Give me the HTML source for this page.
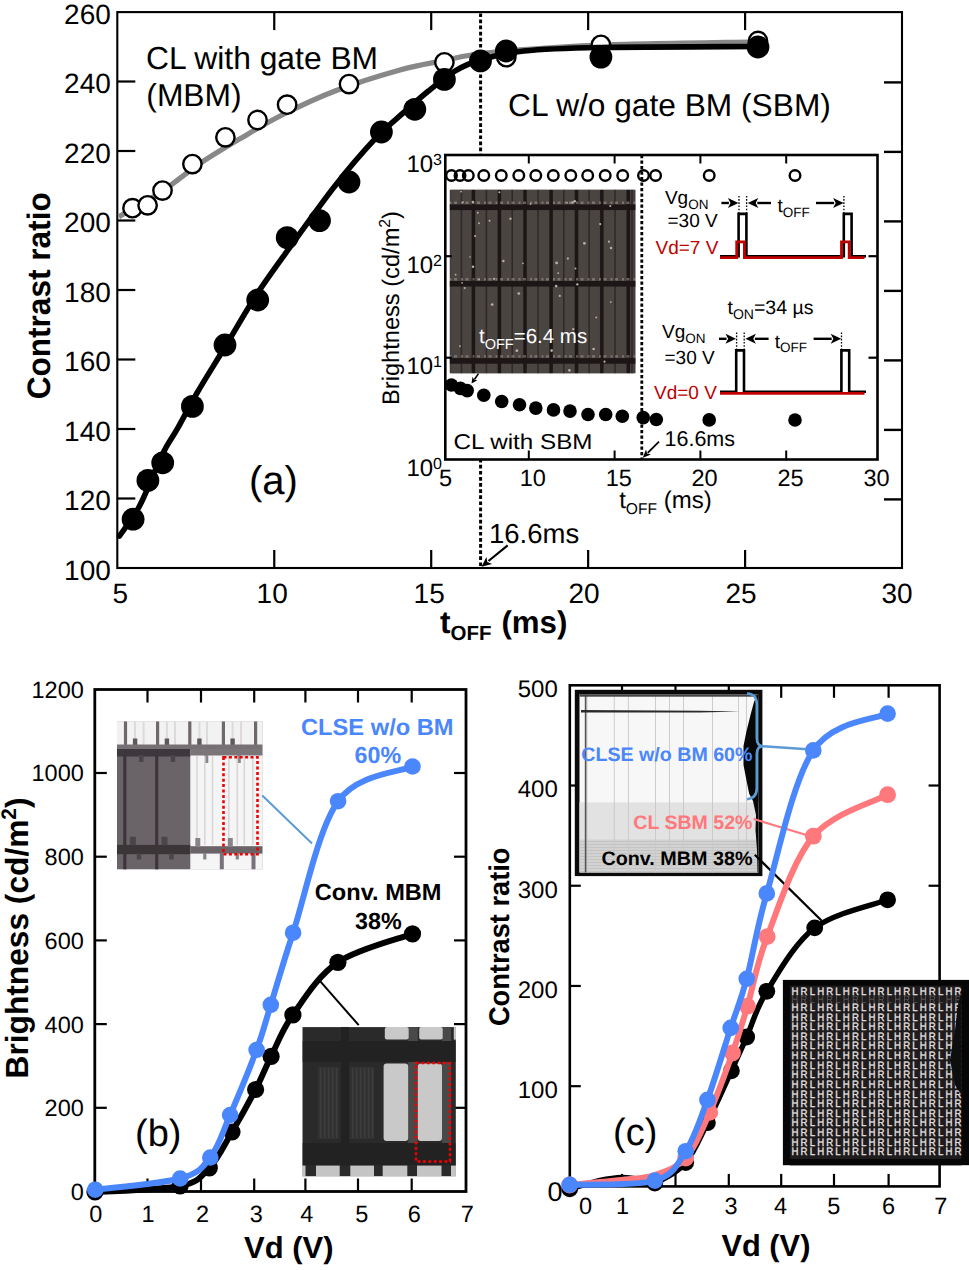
<!DOCTYPE html>
<html><head><meta charset="utf-8"><title>Figure</title><style>
html,body{margin:0;padding:0;background:#fff;width:969px;height:1270px;overflow:hidden;}
svg{display:block;}
text{font-family:"Liberation Sans",sans-serif;text-rendering:geometricPrecision;}
</style></head><body>
<svg width="969" height="1270" viewBox="0 0 969 1270">
<defs><filter id="soft" x="-2%" y="-2%" width="104%" height="104%"><feGaussianBlur stdDeviation="0.7"/></filter><filter id="soft2" x="-2%" y="-2%" width="104%" height="104%"><feGaussianBlur stdDeviation="0.45"/></filter></defs>
<rect x="0" y="0" width="969" height="1270" fill="#fff"/>
<line x1="480.6" y1="12.1" x2="480.6" y2="568" stroke="#000" stroke-width="3" stroke-dasharray="3.7 2.4" stroke-dashoffset="4.8"/>
<line x1="117.3" y1="498.5" x2="135.3" y2="498.5" stroke="#000" stroke-width="2.2"/>
<line x1="884" y1="499.4" x2="902" y2="499.4" stroke="#000" stroke-width="2.4"/>
<line x1="117.3" y1="429" x2="135.3" y2="429" stroke="#000" stroke-width="2.2"/>
<line x1="884" y1="429.9" x2="902" y2="429.9" stroke="#000" stroke-width="2.4"/>
<line x1="117.3" y1="359.5" x2="135.3" y2="359.5" stroke="#000" stroke-width="2.2"/>
<line x1="884" y1="360.4" x2="902" y2="360.4" stroke="#000" stroke-width="2.4"/>
<line x1="117.3" y1="290" x2="135.3" y2="290" stroke="#000" stroke-width="2.2"/>
<line x1="884" y1="290.9" x2="902" y2="290.9" stroke="#000" stroke-width="2.4"/>
<line x1="117.3" y1="220.5" x2="135.3" y2="220.5" stroke="#000" stroke-width="2.2"/>
<line x1="884" y1="221.4" x2="902" y2="221.4" stroke="#000" stroke-width="2.4"/>
<line x1="117.3" y1="151" x2="135.3" y2="151" stroke="#000" stroke-width="2.2"/>
<line x1="884" y1="151.9" x2="902" y2="151.9" stroke="#000" stroke-width="2.4"/>
<line x1="117.3" y1="81.5" x2="135.3" y2="81.5" stroke="#000" stroke-width="2.2"/>
<line x1="884" y1="82.4" x2="902" y2="82.4" stroke="#000" stroke-width="2.4"/>
<line x1="274.25" y1="568" x2="274.25" y2="550" stroke="#000" stroke-width="2.2"/>
<line x1="274.25" y1="12.1" x2="274.25" y2="30.1" stroke="#000" stroke-width="2.2"/>
<line x1="431.2" y1="568" x2="431.2" y2="550" stroke="#000" stroke-width="2.2"/>
<line x1="431.2" y1="12.1" x2="431.2" y2="30.1" stroke="#000" stroke-width="2.2"/>
<line x1="588.15" y1="568" x2="588.15" y2="550" stroke="#000" stroke-width="2.2"/>
<line x1="588.15" y1="12.1" x2="588.15" y2="30.1" stroke="#000" stroke-width="2.2"/>
<line x1="745.1" y1="568" x2="745.1" y2="550" stroke="#000" stroke-width="2.2"/>
<line x1="745.1" y1="12.1" x2="745.1" y2="30.1" stroke="#000" stroke-width="2.2"/>
<rect x="117.3" y="12.1" width="784.7" height="555.9" fill="none" stroke="#000" stroke-width="2.1"/>
<text x="110.8" y="579.5" font-size="28" text-anchor="end">100</text>
<text x="110.8" y="510" font-size="28" text-anchor="end">120</text>
<text x="110.8" y="440.5" font-size="28" text-anchor="end">140</text>
<text x="110.8" y="371" font-size="28" text-anchor="end">160</text>
<text x="110.8" y="301.5" font-size="28" text-anchor="end">180</text>
<text x="110.8" y="232" font-size="28" text-anchor="end">200</text>
<text x="110.8" y="162.5" font-size="28" text-anchor="end">220</text>
<text x="110.8" y="93" font-size="28" text-anchor="end">240</text>
<text x="110.8" y="23.5" font-size="28" text-anchor="end">260</text>
<text x="120.2" y="603" font-size="28" text-anchor="middle">5</text>
<text x="272.2" y="603" font-size="28" text-anchor="middle">10</text>
<text x="429.2" y="603" font-size="28" text-anchor="middle">15</text>
<text x="584.1" y="603" font-size="28" text-anchor="middle">20</text>
<text x="741" y="603" font-size="28" text-anchor="middle">25</text>
<text x="897" y="603" font-size="28" text-anchor="middle">30</text>
<path d="M118.8,216.7 C121.17,215.33 125.8,212.7 133,208.5 C140.2,204.3 150.83,199 162,191.5 C173.17,184 187,172.28 200,163.5 C213,154.72 226.33,146.88 240,138.8 C253.67,130.72 266.17,122.97 282,115 C297.83,107.03 315.33,98.5 335,91 C354.67,83.5 381.83,75.08 400,70 C418.17,64.92 432.33,62.97 444,60.5 C455.67,58.03 459.67,56.78 470,55.2 C480.33,53.62 484.33,52.7 506,51 C527.67,49.3 558,46.53 600,45 C642,43.47 731.67,42.33 758,41.8" stroke="#888" stroke-width="5.2" fill="none" stroke-linecap="butt"/>
<circle cx="132.5" cy="208.2" r="9.2" fill="#fff" stroke="#000" stroke-width="2.4"/>
<circle cx="147.6" cy="205.3" r="9.2" fill="#fff" stroke="#000" stroke-width="2.4"/>
<circle cx="162.5" cy="190.6" r="9.2" fill="#fff" stroke="#000" stroke-width="2.4"/>
<circle cx="192.4" cy="164.1" r="9.2" fill="#fff" stroke="#000" stroke-width="2.4"/>
<circle cx="225.4" cy="137.3" r="9.2" fill="#fff" stroke="#000" stroke-width="2.4"/>
<circle cx="257.5" cy="120" r="9.2" fill="#fff" stroke="#000" stroke-width="2.4"/>
<circle cx="287.1" cy="104.7" r="9.2" fill="#fff" stroke="#000" stroke-width="2.4"/>
<circle cx="349" cy="84.1" r="9.2" fill="#fff" stroke="#000" stroke-width="2.4"/>
<circle cx="444.4" cy="62.3" r="9.2" fill="#fff" stroke="#000" stroke-width="2.4"/>
<circle cx="506.3" cy="57.2" r="9.2" fill="#fff" stroke="#000" stroke-width="2.4"/>
<circle cx="600.9" cy="44.8" r="9.2" fill="#fff" stroke="#000" stroke-width="2.4"/>
<circle cx="758" cy="41" r="9.2" fill="#fff" stroke="#000" stroke-width="2.4"/>
<path d="M119.5,536 C122.75,531.17 133.08,517.83 139,507 C144.92,496.17 150.67,480.6 155,471 C159.33,461.4 161.17,456.62 165,449.4 C168.83,442.18 172.67,437.1 178,427.7 C183.33,418.3 189.17,406.45 197,393 C204.83,379.55 215,363.5 225,347 C235,330.5 245.83,311.1 257,294 C268.17,276.9 278.95,262.5 292,244.4 C305.05,226.3 321.27,203.18 335.3,185.4 C349.33,167.62 364.83,149.82 376.2,137.7 C387.57,125.58 394.8,120.48 403.5,112.7 C412.2,104.92 419.7,98.02 428.4,91 C437.1,83.98 447.02,75.77 455.7,70.6 C464.38,65.43 469.15,63.27 480.5,60 C491.85,56.73 503.88,53.08 523.8,51 C543.72,48.92 560.97,48.25 600,47.5 C639.03,46.75 731.67,46.67 758,46.5" stroke="#000" stroke-width="5.6" fill="none" stroke-linecap="round"/>
<circle cx="133.1" cy="519.2" r="11.4" fill="#000"/>
<circle cx="147.9" cy="480.4" r="11.4" fill="#000"/>
<circle cx="162.7" cy="462.8" r="11.4" fill="#000"/>
<circle cx="192.4" cy="406.4" r="11.4" fill="#000"/>
<circle cx="225" cy="345" r="11.4" fill="#000"/>
<circle cx="257.7" cy="300" r="11.4" fill="#000"/>
<circle cx="287.2" cy="237.6" r="11.4" fill="#000"/>
<circle cx="319.5" cy="220.6" r="11.4" fill="#000"/>
<circle cx="349" cy="182" r="11.4" fill="#000"/>
<circle cx="381.4" cy="132" r="11.4" fill="#000"/>
<circle cx="414.8" cy="109.3" r="11.4" fill="#000"/>
<circle cx="444.4" cy="79.4" r="11.4" fill="#000"/>
<circle cx="480.5" cy="60.9" r="11.4" fill="#000"/>
<circle cx="506.3" cy="51" r="11.4" fill="#000"/>
<circle cx="600.9" cy="57.1" r="11.4" fill="#000"/>
<circle cx="758" cy="47" r="11.4" fill="#000"/>
<text x="146" y="68.7" font-size="31.8">CL with gate BM</text>
<text x="146.3" y="106.3" font-size="31.8">(MBM)</text>
<text x="508" y="115.8" font-size="31.7">CL w/o gate BM (SBM)</text>
<text x="249" y="494" font-size="40">(a)</text>
<text x="489" y="542.6" font-size="27.5">16.6ms</text>
<line x1="507.7" y1="545.4" x2="488.48" y2="561.02" stroke="#000" stroke-width="2.2"/>
<path d="M481.5,566.7 L486.42,556.9 L487.32,561.97 L492.1,563.88 Z" fill="#000"/>
<text transform="translate(49.5,295.8) rotate(-90)" font-size="32.5" font-weight="bold" text-anchor="middle" textLength="207" lengthAdjust="spacingAndGlyphs">Contrast ratio</text>
<text x="440" y="633.3" font-size="31.5" font-weight="bold">t<tspan font-size="20.5" dy="6.2">OFF</tspan></text>
<text x="501.4" y="633.3" font-size="31.5" font-weight="bold" textLength="66" lengthAdjust="spacingAndGlyphs">(ms)</text>
<rect x="445.3" y="155" width="432.2" height="304.5" fill="#fff" stroke="#000" stroke-width="2.6"/>
<clipPath id="cpa"><rect x="449.5" y="189.5" width="186.2" height="184.1"/></clipPath>
<g clip-path="url(#cpa)"><g filter="url(#soft2)">
<rect x="449.5" y="189.5" width="186.2" height="184.1" fill="#443e3c"/>
<rect x="451.5" y="189.5" width="19.9" height="184.1" fill="#4c4542"/>
<rect x="460.65" y="189.5" width="1.6" height="184.1" fill="#2e2a29"/>
<rect x="475.4" y="189.5" width="22" height="184.1" fill="#4c4542"/>
<rect x="485.6" y="189.5" width="1.6" height="184.1" fill="#2e2a29"/>
<rect x="501.4" y="189.5" width="21.6" height="184.1" fill="#4c4542"/>
<rect x="511.4" y="189.5" width="1.6" height="184.1" fill="#2e2a29"/>
<rect x="527" y="189.5" width="22.1" height="184.1" fill="#4c4542"/>
<rect x="537.25" y="189.5" width="1.6" height="184.1" fill="#2e2a29"/>
<rect x="553.1" y="189.5" width="21.4" height="184.1" fill="#4c4542"/>
<rect x="563" y="189.5" width="1.6" height="184.1" fill="#2e2a29"/>
<rect x="578.5" y="189.5" width="21.3" height="184.1" fill="#4c4542"/>
<rect x="588.35" y="189.5" width="1.6" height="184.1" fill="#2e2a29"/>
<rect x="603.8" y="189.5" width="22.5" height="184.1" fill="#4c4542"/>
<rect x="614.25" y="189.5" width="1.6" height="184.1" fill="#2e2a29"/>
<rect x="630.3" y="189.5" width="3.4" height="184.1" fill="#4c4542"/>
<rect x="631.2" y="189.5" width="1.6" height="184.1" fill="#2e2a29"/>
<rect x="471.7" y="189.5" width="3.4" height="184.1" fill="#1c1817"/>
<rect x="497.7" y="189.5" width="3.4" height="184.1" fill="#1c1817"/>
<rect x="523.3" y="189.5" width="3.4" height="184.1" fill="#1c1817"/>
<rect x="549.4" y="189.5" width="3.4" height="184.1" fill="#1c1817"/>
<rect x="574.8" y="189.5" width="3.4" height="184.1" fill="#1c1817"/>
<rect x="600.1" y="189.5" width="3.4" height="184.1" fill="#1c1817"/>
<rect x="626.6" y="189.5" width="3.4" height="184.1" fill="#1c1817"/>
<rect x="449.5" y="204.5" width="186.2" height="5.6" fill="#1c1817"/>
<line x1="449.5" y1="202.8" x2="635.7" y2="202.8" stroke="#a39a92" stroke-width="2.4" stroke-dasharray="2 2.5 3 4" opacity="0.55"/>
<rect x="449.5" y="281" width="186.2" height="5.6" fill="#1c1817"/>
<line x1="449.5" y1="279.3" x2="635.7" y2="279.3" stroke="#a39a92" stroke-width="2.4" stroke-dasharray="2 2.5 3 4" opacity="0.55"/>
<rect x="449.5" y="358.1" width="186.2" height="5.6" fill="#1c1817"/>
<line x1="449.5" y1="356.4" x2="635.7" y2="356.4" stroke="#a39a92" stroke-width="2.4" stroke-dasharray="2 2.5 3 4" opacity="0.55"/>
<circle cx="510.5" cy="218.67" r="1.19" fill="#b8b0a8"/>
<circle cx="464.7" cy="288.01" r="1.02" fill="#b8b0a8"/>
<circle cx="462.07" cy="282.89" r="0.82" fill="#b8b0a8"/>
<circle cx="530.51" cy="204.08" r="0.85" fill="#b8b0a8"/>
<circle cx="528.85" cy="340.42" r="0.87" fill="#b8b0a8"/>
<circle cx="492.17" cy="304.5" r="1.37" fill="#b8b0a8"/>
<circle cx="556.65" cy="262.94" r="1.39" fill="#b8b0a8"/>
<circle cx="459.99" cy="346.11" r="0.97" fill="#b8b0a8"/>
<circle cx="477.78" cy="212.71" r="0.99" fill="#b8b0a8"/>
<circle cx="600.2" cy="224.05" r="1.15" fill="#b8b0a8"/>
<circle cx="567.91" cy="258.57" r="1.13" fill="#b8b0a8"/>
<circle cx="462.94" cy="202.23" r="0.92" fill="#b8b0a8"/>
<circle cx="575.47" cy="268.51" r="0.99" fill="#b8b0a8"/>
<circle cx="558.19" cy="273.12" r="0.98" fill="#b8b0a8"/>
<circle cx="596.24" cy="317.39" r="0.95" fill="#b8b0a8"/>
<circle cx="556.16" cy="286.09" r="1.33" fill="#b8b0a8"/>
<circle cx="584.4" cy="243.36" r="1.39" fill="#b8b0a8"/>
<circle cx="473.01" cy="266.8" r="1.25" fill="#b8b0a8"/>
<circle cx="479.19" cy="279.56" r="0.82" fill="#b8b0a8"/>
<circle cx="573.25" cy="329.2" r="1.14" fill="#b8b0a8"/>
<circle cx="611.01" cy="248.01" r="1.22" fill="#b8b0a8"/>
<circle cx="559.79" cy="295.94" r="1.07" fill="#b8b0a8"/>
<circle cx="604.54" cy="361.64" r="1.08" fill="#b8b0a8"/>
<circle cx="572.51" cy="202.43" r="1.22" fill="#b8b0a8"/>
<circle cx="569.41" cy="370.36" r="1.29" fill="#b8b0a8"/>
<circle cx="503.35" cy="260.98" r="1.2" fill="#b8b0a8"/>
<circle cx="455.61" cy="274.65" r="0.9" fill="#b8b0a8"/>
<circle cx="472.83" cy="202.12" r="1.26" fill="#b8b0a8"/>
<circle cx="475.07" cy="236.1" r="1.03" fill="#b8b0a8"/>
<circle cx="610.27" cy="206.01" r="1.07" fill="#b8b0a8"/>
<circle cx="551.61" cy="350.6" r="1.29" fill="#b8b0a8"/>
<circle cx="608.92" cy="241.64" r="1.05" fill="#b8b0a8"/>
<circle cx="516.87" cy="350.74" r="1.37" fill="#b8b0a8"/>
<circle cx="479" cy="223.24" r="0.94" fill="#b8b0a8"/>
<circle cx="494.01" cy="278.84" r="1.15" fill="#b8b0a8"/>
<circle cx="499.37" cy="192.24" r="1.05" fill="#b8b0a8"/>
<circle cx="518.78" cy="293.5" r="1.37" fill="#b8b0a8"/>
<circle cx="577.31" cy="284.34" r="1.17" fill="#b8b0a8"/>
<circle cx="574.7" cy="201.22" r="1.34" fill="#b8b0a8"/>
<circle cx="593.61" cy="349" r="1.28" fill="#b8b0a8"/>
<circle cx="522.99" cy="263.36" r="0.86" fill="#b8b0a8"/>
<circle cx="567.07" cy="202.71" r="0.84" fill="#b8b0a8"/>
<circle cx="489.54" cy="220.73" r="1" fill="#b8b0a8"/>
<circle cx="461.08" cy="191.54" r="0.89" fill="#b8b0a8"/>
<circle cx="469.99" cy="256.99" r="0.82" fill="#b8b0a8"/>
<circle cx="610.8" cy="302.09" r="0.89" fill="#b8b0a8"/>
</g></g>
<text x="479" y="342.5" font-size="20.5" fill="#fff">t<tspan font-size="14.5" dy="6">OFF</tspan><tspan dy="-6">=6.4 ms</tspan></text>
<line x1="478.5" y1="373.6" x2="474.39" y2="379.42" stroke="#000" stroke-width="1.6"/>
<path d="M471.5,383.5 L472.51,376.87 L474.1,379.83 L477.41,380.33 Z" fill="#000"/>
<line x1="641.8" y1="155" x2="641.8" y2="459.5" stroke="#000" stroke-width="2.8" stroke-dasharray="3.3 2.2"/>
<line x1="528.8" y1="459.5" x2="528.8" y2="450.5" stroke="#000" stroke-width="2"/>
<line x1="528.8" y1="155" x2="528.8" y2="163.5" stroke="#000" stroke-width="2"/>
<line x1="614.6" y1="459.5" x2="614.6" y2="450.5" stroke="#000" stroke-width="2"/>
<line x1="614.6" y1="155" x2="614.6" y2="163.5" stroke="#000" stroke-width="2"/>
<line x1="700.4" y1="459.5" x2="700.4" y2="450.5" stroke="#000" stroke-width="2"/>
<line x1="700.4" y1="155" x2="700.4" y2="163.5" stroke="#000" stroke-width="2"/>
<line x1="786.2" y1="459.5" x2="786.2" y2="450.5" stroke="#000" stroke-width="2"/>
<line x1="786.2" y1="155" x2="786.2" y2="163.5" stroke="#000" stroke-width="2"/>
<line x1="445.3" y1="256.2" x2="451.8" y2="256.2" stroke="#000" stroke-width="2.2"/>
<line x1="868.5" y1="256.2" x2="877.5" y2="256.2" stroke="#000" stroke-width="2.2"/>
<line x1="445.3" y1="357.7" x2="451.8" y2="357.7" stroke="#000" stroke-width="2.2"/>
<line x1="868.5" y1="357.7" x2="877.5" y2="357.7" stroke="#000" stroke-width="2.2"/>
<text x="433.1" y="171.5" font-size="24" text-anchor="end">10</text>
<text x="432.9" y="164.5" font-size="16">3</text>
<text x="433.1" y="272.7" font-size="24" text-anchor="end">10</text>
<text x="432.9" y="265.7" font-size="16">2</text>
<text x="433.1" y="374.2" font-size="24" text-anchor="end">10</text>
<text x="432.9" y="367.2" font-size="16">1</text>
<text x="433.1" y="476" font-size="24" text-anchor="end">10</text>
<text x="432.9" y="469" font-size="16">0</text>
<text x="445.6" y="486" font-size="23.5" text-anchor="middle">5</text>
<text x="532.8" y="486" font-size="23.5" text-anchor="middle">10</text>
<text x="618.8" y="486" font-size="23.5" text-anchor="middle">15</text>
<text x="704.6" y="486" font-size="23.5" text-anchor="middle">20</text>
<text x="790.5" y="486" font-size="23.5" text-anchor="middle">25</text>
<text x="876.5" y="486" font-size="23.5" text-anchor="middle">30</text>
<text x="619.2" y="508.4" font-size="24">t<tspan font-size="15.6" dy="5.6">OFF</tspan><tspan dy="-5.6"> (ms)</tspan></text>
<text transform="translate(399.2,308) rotate(-90)" font-size="24" text-anchor="middle" textLength="194" lengthAdjust="spacingAndGlyphs">Brightness (cd/m<tspan font-size="16" dy="-9">2</tspan><tspan dy="9">)</tspan></text>
<circle cx="451.5" cy="175.5" r="5.3" fill="none" stroke="#000" stroke-width="2.4"/>
<circle cx="460" cy="175.5" r="5.3" fill="none" stroke="#000" stroke-width="2.4"/>
<circle cx="468.3" cy="175.5" r="5.3" fill="none" stroke="#000" stroke-width="2.4"/>
<circle cx="483.8" cy="175.5" r="5.3" fill="none" stroke="#000" stroke-width="2.4"/>
<circle cx="501.3" cy="175.5" r="5.3" fill="none" stroke="#000" stroke-width="2.4"/>
<circle cx="518.8" cy="175.5" r="5.3" fill="none" stroke="#000" stroke-width="2.4"/>
<circle cx="535.8" cy="175.5" r="5.3" fill="none" stroke="#000" stroke-width="2.4"/>
<circle cx="553.3" cy="175.5" r="5.3" fill="none" stroke="#000" stroke-width="2.4"/>
<circle cx="570.8" cy="175.5" r="5.3" fill="none" stroke="#000" stroke-width="2.4"/>
<circle cx="587.7" cy="175.5" r="5.3" fill="none" stroke="#000" stroke-width="2.4"/>
<circle cx="605.2" cy="175.5" r="5.3" fill="none" stroke="#000" stroke-width="2.4"/>
<circle cx="622.7" cy="175.5" r="5.3" fill="none" stroke="#000" stroke-width="2.4"/>
<circle cx="643.5" cy="175.5" r="5.3" fill="none" stroke="#000" stroke-width="2.4"/>
<circle cx="655.6" cy="175.5" r="5.3" fill="none" stroke="#000" stroke-width="2.4"/>
<circle cx="709.2" cy="175.5" r="5.3" fill="none" stroke="#000" stroke-width="2.4"/>
<circle cx="795" cy="175.5" r="5.3" fill="none" stroke="#000" stroke-width="2.4"/>
<circle cx="451.4" cy="385" r="6.8" fill="#000"/>
<circle cx="460.4" cy="388.4" r="6.8" fill="#000"/>
<circle cx="467.2" cy="390.6" r="6.8" fill="#000"/>
<circle cx="483.8" cy="395.2" r="6.8" fill="#000"/>
<circle cx="501.7" cy="401.5" r="6.8" fill="#000"/>
<circle cx="519.5" cy="404.7" r="6.8" fill="#000"/>
<circle cx="535.8" cy="408.1" r="6.8" fill="#000"/>
<circle cx="553.5" cy="409.9" r="6.8" fill="#000"/>
<circle cx="570" cy="411.1" r="6.8" fill="#000"/>
<circle cx="588" cy="414.5" r="6.8" fill="#000"/>
<circle cx="605.7" cy="414.5" r="6.8" fill="#000"/>
<circle cx="622.3" cy="416.3" r="6.8" fill="#000"/>
<circle cx="643.2" cy="417.6" r="6.8" fill="#000"/>
<circle cx="656.3" cy="419.5" r="6.8" fill="#000"/>
<circle cx="709.2" cy="419.9" r="6.8" fill="#000"/>
<circle cx="795" cy="420" r="6.8" fill="#000"/>
<text x="453.5" y="449" font-size="21.5" textLength="139" lengthAdjust="spacingAndGlyphs">CL with SBM</text>
<text x="664.5" y="445.7" font-size="21.5">16.6ms</text>
<line x1="659" y1="441.6" x2="647.77" y2="452.77" stroke="#000" stroke-width="1.8"/>
<path d="M642.8,457.7 L646.01,449.58 L647.06,453.47 L650.94,454.54 Z" fill="#000"/>
<text x="664.9" y="204.3" font-size="19">Vg<tspan font-size="13.5" dy="4.5">ON</tspan></text>
<text x="667.5" y="227.3" font-size="19">=30 V</text>
<text x="655.5" y="254" font-size="19" fill="#c00000">Vd=7 V</text>
<path d="M720,256.3 H738.6 V213.9 H746.4 V256.3 H843.8 V213.9 H851.6 V256.3 H866" stroke="#000" stroke-width="2.6" fill="none" stroke-linejoin="miter"/>
<path d="M720,257.6 H736.7 V241.8 H744.4 V257.6 H841.5 V241.8 H849.2 V257.6 H864.5" stroke="#c00000" stroke-width="2.8" fill="none"/>
<line x1="739" y1="195.9" x2="739" y2="213.9" stroke="#000" stroke-width="1.3" stroke-dasharray="1.6 1.6"/>
<line x1="746.6" y1="195.9" x2="746.6" y2="213.9" stroke="#000" stroke-width="1.3" stroke-dasharray="1.6 1.6"/>
<line x1="843.9" y1="195.9" x2="843.9" y2="213.9" stroke="#000" stroke-width="1.3" stroke-dasharray="1.6 1.6"/>
<line x1="721.4" y1="203" x2="728.9" y2="203" stroke="#000" stroke-width="2.4"/>
<path d="M738.4,203 L727.9,208 L730.52,203 L727.9,198 Z" fill="#000"/>
<line x1="771" y1="203" x2="757.3" y2="203" stroke="#000" stroke-width="2.4"/>
<path d="M747.8,203 L758.3,198 L755.67,203 L758.3,208 Z" fill="#000"/>
<line x1="816" y1="203" x2="834.1" y2="203" stroke="#000" stroke-width="2.4"/>
<path d="M843.6,203 L833.1,208 L835.73,203 L833.1,198 Z" fill="#000"/>
<text x="777.5" y="212" font-size="19">t<tspan font-size="13.5" dy="4.5">OFF</tspan></text>
<text x="662" y="338.3" font-size="19">Vg<tspan font-size="13.5" dy="4.5">ON</tspan></text>
<text x="664.5" y="363.8" font-size="19">=30 V</text>
<text x="654" y="398.9" font-size="19" fill="#c00000">Vd=0 V</text>
<path d="M720,391.7 H736.2 V350.4 H744 V391.7 H841.4 V350.4 H849.2 V391.7 H866" stroke="#000" stroke-width="2.6" fill="none" stroke-linejoin="miter"/>
<line x1="720" y1="393.3" x2="864.5" y2="393.3" stroke="#c00000" stroke-width="2.8"/>
<line x1="736.6" y1="332.4" x2="736.6" y2="350.4" stroke="#000" stroke-width="1.3" stroke-dasharray="1.6 1.6"/>
<line x1="744.2" y1="332.4" x2="744.2" y2="350.4" stroke="#000" stroke-width="1.3" stroke-dasharray="1.6 1.6"/>
<line x1="841.5" y1="332.4" x2="841.5" y2="350.4" stroke="#000" stroke-width="1.3" stroke-dasharray="1.6 1.6"/>
<line x1="719" y1="338.8" x2="726.5" y2="338.8" stroke="#000" stroke-width="2.4"/>
<path d="M736,338.8 L725.5,343.8 L728.12,338.8 L725.5,333.8 Z" fill="#000"/>
<line x1="768.6" y1="338.8" x2="754.9" y2="338.8" stroke="#000" stroke-width="2.4"/>
<path d="M745.4,338.8 L755.9,333.8 L753.27,338.8 L755.9,343.8 Z" fill="#000"/>
<line x1="813.6" y1="338.8" x2="831.7" y2="338.8" stroke="#000" stroke-width="2.4"/>
<path d="M841.2,338.8 L830.7,343.8 L833.33,338.8 L830.7,333.8 Z" fill="#000"/>
<text x="774.8" y="347.5" font-size="19">t<tspan font-size="13.5" dy="4.5">OFF</tspan></text>
<text x="727.5" y="314.1" font-size="19.5">t<tspan font-size="14" dy="4.5">ON</tspan><tspan dy="-4.5">=34 µs</tspan></text>
<line x1="94.8" y1="1107.8" x2="106.8" y2="1107.8" stroke="#000" stroke-width="2.2"/>
<line x1="454" y1="1107.8" x2="466" y2="1107.8" stroke="#000" stroke-width="2.2"/>
<line x1="94.8" y1="1024.1" x2="106.8" y2="1024.1" stroke="#000" stroke-width="2.2"/>
<line x1="454" y1="1024.1" x2="466" y2="1024.1" stroke="#000" stroke-width="2.2"/>
<line x1="94.8" y1="940.4" x2="106.8" y2="940.4" stroke="#000" stroke-width="2.2"/>
<line x1="454" y1="940.4" x2="466" y2="940.4" stroke="#000" stroke-width="2.2"/>
<line x1="94.8" y1="856.7" x2="106.8" y2="856.7" stroke="#000" stroke-width="2.2"/>
<line x1="454" y1="856.7" x2="466" y2="856.7" stroke="#000" stroke-width="2.2"/>
<line x1="94.8" y1="773" x2="106.8" y2="773" stroke="#000" stroke-width="2.2"/>
<line x1="454" y1="773" x2="466" y2="773" stroke="#000" stroke-width="2.2"/>
<line x1="147.5" y1="1191.5" x2="147.5" y2="1178.5" stroke="#000" stroke-width="2.2"/>
<line x1="147.5" y1="689.5" x2="147.5" y2="702.5" stroke="#000" stroke-width="2.2"/>
<line x1="201" y1="1191.5" x2="201" y2="1178.5" stroke="#000" stroke-width="2.2"/>
<line x1="201" y1="689.5" x2="201" y2="702.5" stroke="#000" stroke-width="2.2"/>
<line x1="254.2" y1="1191.5" x2="254.2" y2="1178.5" stroke="#000" stroke-width="2.2"/>
<line x1="254.2" y1="689.5" x2="254.2" y2="702.5" stroke="#000" stroke-width="2.2"/>
<line x1="305.4" y1="1191.5" x2="305.4" y2="1178.5" stroke="#000" stroke-width="2.2"/>
<line x1="305.4" y1="689.5" x2="305.4" y2="702.5" stroke="#000" stroke-width="2.2"/>
<line x1="358" y1="1191.5" x2="358" y2="1178.5" stroke="#000" stroke-width="2.2"/>
<line x1="358" y1="689.5" x2="358" y2="702.5" stroke="#000" stroke-width="2.2"/>
<line x1="411.7" y1="1191.5" x2="411.7" y2="1178.5" stroke="#000" stroke-width="2.2"/>
<line x1="411.7" y1="689.5" x2="411.7" y2="702.5" stroke="#000" stroke-width="2.2"/>
<rect x="94.8" y="689.5" width="371.2" height="502" fill="none" stroke="#000" stroke-width="2.8"/>
<text x="83.8" y="1199.9" font-size="23.5" text-anchor="end">0</text>
<text x="83.8" y="1116.2" font-size="23.5" text-anchor="end">200</text>
<text x="83.8" y="1032.5" font-size="23.5" text-anchor="end">400</text>
<text x="83.8" y="948.8" font-size="23.5" text-anchor="end">600</text>
<text x="83.8" y="865.1" font-size="23.5" text-anchor="end">800</text>
<text x="83.8" y="781.4" font-size="23.5" text-anchor="end">1000</text>
<text x="83.8" y="697.7" font-size="23.5" text-anchor="end">1200</text>
<text x="95.9" y="1221.9" font-size="23.5" text-anchor="middle">0</text>
<text x="148" y="1221.9" font-size="23.5" text-anchor="middle">1</text>
<text x="202.5" y="1221.9" font-size="23.5" text-anchor="middle">2</text>
<text x="256.3" y="1221.9" font-size="23.5" text-anchor="middle">3</text>
<text x="306.8" y="1221.9" font-size="23.5" text-anchor="middle">4</text>
<text x="361.8" y="1221.9" font-size="23.5" text-anchor="middle">5</text>
<text x="414.4" y="1221.9" font-size="23.5" text-anchor="middle">6</text>
<text x="467.4" y="1221.9" font-size="23.5" text-anchor="middle">7</text>
<text transform="translate(28.1,938) rotate(-90)" font-size="32" font-weight="bold" text-anchor="middle" textLength="281" lengthAdjust="spacingAndGlyphs">Brightness (cd/m<tspan font-size="21" dy="-12">2</tspan><tspan dy="12">)</tspan></text>
<text x="244" y="1257.7" font-size="30.5" font-weight="bold" textLength="89.5" lengthAdjust="spacingAndGlyphs">Vd (V)</text>
<text x="135" y="1145.8" font-size="38">(b)</text>
<clipPath id="cb1"><rect x="116.9" y="721.2" width="145.8" height="148.4"/></clipPath>
<g clip-path="url(#cb1)"><g filter="url(#soft)">
<rect x="116.9" y="721.2" width="145.8" height="148.4" fill="#6a6468"/>
<rect x="190.3" y="745" width="72.4" height="124.6" fill="#f6f5f6"/>
<rect x="116.9" y="721.2" width="145.8" height="24.5" fill="#f3f2f3"/>
<rect x="134" y="721.2" width="2" height="24" fill="#dcdadc"/>
<rect x="142.6" y="721.2" width="2" height="24" fill="#dcdadc"/>
<rect x="165.9" y="721.2" width="2" height="24" fill="#dcdadc"/>
<rect x="174" y="721.2" width="2" height="24" fill="#dcdadc"/>
<rect x="198.4" y="721.2" width="2" height="24" fill="#dcdadc"/>
<rect x="206" y="721.2" width="2" height="24" fill="#dcdadc"/>
<rect x="231.6" y="721.2" width="2" height="24" fill="#dcdadc"/>
<rect x="240" y="721.2" width="2" height="24" fill="#dcdadc"/>
<rect x="123.9" y="721.2" width="3.2" height="26" fill="#6e686c"/>
<rect x="156" y="721.2" width="3.2" height="26" fill="#6e686c"/>
<rect x="188.2" y="721.2" width="3.2" height="26" fill="#6e686c"/>
<rect x="221.8" y="721.2" width="3.2" height="26" fill="#6e686c"/>
<rect x="254" y="721.2" width="3.2" height="26" fill="#6e686c"/>
<rect x="132.9" y="738.5" width="4.4" height="8" fill="#5e585c"/>
<rect x="164.7" y="738.5" width="4.4" height="8" fill="#5e585c"/>
<rect x="197.2" y="738.5" width="4.4" height="8" fill="#5e585c"/>
<rect x="230.4" y="738.5" width="4.4" height="8" fill="#5e585c"/>
<rect x="116.9" y="744.5" width="145.8" height="5" fill="#767074"/>
<rect x="116.9" y="749" width="73.4" height="7.5" fill="#3e383c"/>
<rect x="190.3" y="749" width="72.4" height="6.5" fill="#7a7478"/>
<rect x="139.1" y="755" width="4.4" height="7" fill="#4a4448"/>
<rect x="170.8" y="755" width="4.4" height="7" fill="#4a4448"/>
<rect x="204.3" y="755" width="4" height="8" fill="#8a8488"/>
<rect x="236.8" y="755" width="4" height="8" fill="#8a8488"/>
<rect x="123.2" y="749" width="3.2" height="121" fill="#3c363a"/>
<rect x="155.1" y="749" width="3.2" height="121" fill="#3c363a"/>
<rect x="196.2" y="756" width="1.6" height="89" fill="#d8d6d8"/>
<rect x="204" y="756" width="1.6" height="89" fill="#d8d6d8"/>
<rect x="211.7" y="756" width="1.6" height="89" fill="#d8d6d8"/>
<rect x="228" y="756" width="1.6" height="89" fill="#d8d6d8"/>
<rect x="236.5" y="756" width="1.6" height="89" fill="#d8d6d8"/>
<rect x="243.5" y="756" width="1.6" height="89" fill="#d8d6d8"/>
<rect x="252" y="756" width="1.6" height="89" fill="#d8d6d8"/>
<rect x="116.9" y="844.9" width="73.4" height="9.3" fill="#3a3438"/>
<rect x="190.3" y="846.2" width="72.4" height="7.4" fill="#6a6468"/>
<rect x="129.8" y="836.8" width="6" height="8.5" fill="#4a4448"/>
<rect x="161.5" y="836.8" width="6" height="8.5" fill="#4a4448"/>
<rect x="136.8" y="853.5" width="4.4" height="6" fill="#4a4448"/>
<rect x="169.3" y="853.5" width="4.4" height="6" fill="#4a4448"/>
<rect x="195.3" y="838" width="5" height="8.5" fill="#8a8488"/>
<rect x="227.8" y="838" width="5" height="8.5" fill="#8a8488"/>
<rect x="203.2" y="853" width="3.2" height="6.5" fill="#8a8488"/>
<rect x="235.7" y="853" width="3.2" height="6.5" fill="#8a8488"/>
<rect x="219.8" y="853" width="4" height="16.6" fill="#77717a"/>
<rect x="251.5" y="853" width="4" height="16.6" fill="#77717a"/>
</g></g>
<rect x="223.5" y="757.3" width="34" height="97" fill="none" stroke="#f00000" stroke-width="2.6" stroke-dasharray="3 2.4"/>
<clipPath id="cb2"><rect x="302.3" y="1027.1" width="153.6" height="149.4"/></clipPath>
<g clip-path="url(#cb2)"><g filter="url(#soft)">
<rect x="302.3" y="1027.1" width="153.6" height="149.4" fill="#2a2a2a"/>
<rect x="318" y="1067" width="21" height="72" fill="#333333"/>
<rect x="320" y="1068" width="1.3" height="70" fill="#3d3d3d"/>
<rect x="324" y="1068" width="1.3" height="70" fill="#3d3d3d"/>
<rect x="328" y="1068" width="1.3" height="70" fill="#3d3d3d"/>
<rect x="332" y="1068" width="1.3" height="70" fill="#3d3d3d"/>
<rect x="336" y="1068" width="1.3" height="70" fill="#3d3d3d"/>
<rect x="350" y="1067" width="24" height="72" fill="#333333"/>
<rect x="352" y="1068" width="1.3" height="70" fill="#3d3d3d"/>
<rect x="356" y="1068" width="1.3" height="70" fill="#3d3d3d"/>
<rect x="360" y="1068" width="1.3" height="70" fill="#3d3d3d"/>
<rect x="364" y="1068" width="1.3" height="70" fill="#3d3d3d"/>
<rect x="368" y="1068" width="1.3" height="70" fill="#3d3d3d"/>
<rect x="372" y="1068" width="1.3" height="70" fill="#3d3d3d"/>
<rect x="302.3" y="1041" width="153.6" height="21" fill="#202020"/>
<rect x="302.3" y="1143" width="153.6" height="22" fill="#232323"/>
<rect x="341" y="1027.1" width="8" height="138.4" fill="#222222"/>
<rect x="408.2" y="1027.1" width="9.6" height="14" fill="#4a4a4a"/>
<rect x="408.2" y="1062" width="9.6" height="81" fill="#4a4a4a"/>
<rect x="442" y="1027.1" width="9" height="14" fill="#4a4a4a"/>
<rect x="442" y="1062" width="9" height="81" fill="#4a4a4a"/>
<rect x="384.8" y="1027.1" width="23.9" height="12.5" fill="#c9c9c9" rx="2"/>
<rect x="419.2" y="1027.1" width="23.5" height="12.5" fill="#c9c9c9" rx="2"/>
<rect x="453.8" y="1027.1" width="2.1" height="12.5" fill="#c9c9c9"/>
<rect x="383.6" y="1063.5" width="24.6" height="77.5" fill="#c9c9c9" rx="3"/>
<rect x="417.8" y="1063.5" width="24.2" height="77.5" fill="#c9c9c9" rx="3"/>
<rect x="302.3" y="1165.6" width="3.2" height="10.9" fill="#c4c4c4"/>
<rect x="316" y="1165.6" width="23.7" height="10.9" fill="#c4c4c4"/>
<rect x="350.3" y="1165.6" width="23.7" height="10.9" fill="#c4c4c4"/>
<rect x="382.7" y="1165.6" width="24.6" height="10.9" fill="#c4c4c4"/>
<rect x="417" y="1165.6" width="24.5" height="10.9" fill="#c4c4c4"/>
<rect x="451" y="1165.6" width="4.9" height="10.9" fill="#c4c4c4"/>
</g></g>
<rect x="416" y="1063" width="34" height="98.5" fill="none" stroke="#f00000" stroke-width="2.6" stroke-dasharray="3 2.4"/>
<line x1="262.3" y1="795.5" x2="312" y2="843.5" stroke="#5b9bd5" stroke-width="2"/>
<line x1="319" y1="979.8" x2="358.7" y2="1025.2" stroke="#000" stroke-width="2"/>
<path d="M95,1192 C109.18,1191 161.05,1190.02 180.1,1186 C199.15,1181.98 200.65,1176.9 209.3,1167.9 C217.95,1158.9 224.28,1145.07 232,1132 C239.72,1118.93 249.08,1102.1 255.6,1089.5 C262.12,1076.9 264.88,1068.85 271.1,1056.4 C277.32,1043.95 281.77,1030.48 292.9,1014.8 C304.03,999.12 317.97,975.78 337.9,962.3 C357.83,948.82 400.07,938.63 412.5,933.9" stroke="#000" stroke-width="6" fill="none" stroke-linejoin="round"/>
<circle cx="95" cy="1192" r="8.6" fill="#000"/>
<circle cx="180.1" cy="1186" r="8.6" fill="#000"/>
<circle cx="209.3" cy="1167.9" r="8.6" fill="#000"/>
<circle cx="232" cy="1132" r="8.6" fill="#000"/>
<circle cx="255.6" cy="1089.5" r="8.6" fill="#000"/>
<circle cx="271.1" cy="1056.4" r="8.6" fill="#000"/>
<circle cx="292.9" cy="1014.8" r="8.6" fill="#000"/>
<circle cx="337.9" cy="962.3" r="8.6" fill="#000"/>
<circle cx="412.5" cy="933.9" r="8.6" fill="#000"/>
<path d="M95.2,1189.7 C109.35,1187.83 160.92,1183.87 180.1,1178.5 C199.28,1173.13 201.97,1168.08 210.3,1157.5 C218.63,1146.92 222.38,1132.95 230.1,1115 C237.82,1097.05 249.82,1068.17 256.6,1049.8 C263.38,1031.43 264.72,1024.32 270.8,1004.8 C276.88,985.28 281.88,966.63 293.1,932.7 C304.32,898.77 318.2,828.9 338.1,801.2 C358,773.5 400.1,772.28 412.5,766.5" stroke="#4a86fc" stroke-width="6" fill="none" stroke-linejoin="round"/>
<circle cx="95.2" cy="1189.7" r="8.3" fill="#4a86fc"/>
<circle cx="180.1" cy="1178.5" r="8.3" fill="#4a86fc"/>
<circle cx="210.3" cy="1157.5" r="8.3" fill="#4a86fc"/>
<circle cx="230.1" cy="1115" r="8.3" fill="#4a86fc"/>
<circle cx="256.6" cy="1049.8" r="8.3" fill="#4a86fc"/>
<circle cx="270.8" cy="1004.8" r="8.3" fill="#4a86fc"/>
<circle cx="293.1" cy="932.7" r="8.3" fill="#4a86fc"/>
<circle cx="338.1" cy="801.2" r="8.3" fill="#4a86fc"/>
<circle cx="412.5" cy="766.5" r="8.3" fill="#4a86fc"/>
<text x="301" y="734.5" font-size="23.3" font-weight="bold" fill="#4a86fc" textLength="152.6" lengthAdjust="spacingAndGlyphs">CLSE w/o BM</text>
<text x="354.5" y="763" font-size="23.3" font-weight="bold" fill="#4a86fc">60%</text>
<text x="314.8" y="900.1" font-size="23.3" font-weight="bold" textLength="126.7" lengthAdjust="spacingAndGlyphs">Conv. MBM</text>
<text x="355" y="928.6" font-size="23.3" font-weight="bold">38%</text>
<line x1="569.8" y1="1086.18" x2="580.8" y2="1086.18" stroke="#000" stroke-width="2.2"/>
<line x1="928.6" y1="1086.18" x2="939.6" y2="1086.18" stroke="#000" stroke-width="2.2"/>
<line x1="569.8" y1="985.96" x2="580.8" y2="985.96" stroke="#000" stroke-width="2.2"/>
<line x1="928.6" y1="985.96" x2="939.6" y2="985.96" stroke="#000" stroke-width="2.2"/>
<line x1="569.8" y1="885.74" x2="580.8" y2="885.74" stroke="#000" stroke-width="2.2"/>
<line x1="928.6" y1="885.74" x2="939.6" y2="885.74" stroke="#000" stroke-width="2.2"/>
<line x1="569.8" y1="785.52" x2="580.8" y2="785.52" stroke="#000" stroke-width="2.2"/>
<line x1="928.6" y1="785.52" x2="939.6" y2="785.52" stroke="#000" stroke-width="2.2"/>
<line x1="622" y1="1186.4" x2="622" y2="1173.9" stroke="#000" stroke-width="2.2"/>
<line x1="622" y1="685.3" x2="622" y2="697.8" stroke="#000" stroke-width="2.2"/>
<line x1="675.5" y1="1186.4" x2="675.5" y2="1173.9" stroke="#000" stroke-width="2.2"/>
<line x1="675.5" y1="685.3" x2="675.5" y2="697.8" stroke="#000" stroke-width="2.2"/>
<line x1="728.8" y1="1186.4" x2="728.8" y2="1173.9" stroke="#000" stroke-width="2.2"/>
<line x1="728.8" y1="685.3" x2="728.8" y2="697.8" stroke="#000" stroke-width="2.2"/>
<line x1="781.2" y1="1186.4" x2="781.2" y2="1173.9" stroke="#000" stroke-width="2.2"/>
<line x1="781.2" y1="685.3" x2="781.2" y2="697.8" stroke="#000" stroke-width="2.2"/>
<line x1="834" y1="1186.4" x2="834" y2="1173.9" stroke="#000" stroke-width="2.2"/>
<line x1="834" y1="685.3" x2="834" y2="697.8" stroke="#000" stroke-width="2.2"/>
<line x1="888.6" y1="1186.4" x2="888.6" y2="1173.9" stroke="#000" stroke-width="2.2"/>
<line x1="888.6" y1="685.3" x2="888.6" y2="697.8" stroke="#000" stroke-width="2.2"/>
<rect x="569.8" y="685.3" width="369.8" height="501.1" fill="none" stroke="#000" stroke-width="2.6"/>
<text x="557.8" y="1097.98" font-size="24" text-anchor="end">100</text>
<text x="557.8" y="997.76" font-size="24" text-anchor="end">200</text>
<text x="557.8" y="897.54" font-size="24" text-anchor="end">300</text>
<text x="557.8" y="797.32" font-size="24" text-anchor="end">400</text>
<text x="557.8" y="697.1" font-size="24" text-anchor="end">500</text>
<text x="562.5" y="1200.5" font-size="27" text-anchor="end">0</text>
<text x="585.6" y="1213.8" font-size="23.5" text-anchor="middle">0</text>
<text x="622.5" y="1213.8" font-size="23.5" text-anchor="middle">1</text>
<text x="678.3" y="1213.8" font-size="23.5" text-anchor="middle">2</text>
<text x="731" y="1213.8" font-size="23.5" text-anchor="middle">3</text>
<text x="780.5" y="1213.8" font-size="23.5" text-anchor="middle">4</text>
<text x="833.7" y="1213.8" font-size="23.5" text-anchor="middle">5</text>
<text x="888.6" y="1213.8" font-size="23.5" text-anchor="middle">6</text>
<text x="940.9" y="1213.8" font-size="23.5" text-anchor="middle">7</text>
<text transform="translate(508.6,936.8) rotate(-90)" font-size="28.5" font-weight="bold" text-anchor="middle" textLength="178.5" lengthAdjust="spacingAndGlyphs">Contrast ratio</text>
<text x="721.4" y="1256.3" font-size="30.5" font-weight="bold" textLength="89" lengthAdjust="spacingAndGlyphs">Vd (V)</text>
<text x="613" y="1145" font-size="38">(c)</text>
<g>
<rect x="574.8" y="689.8" width="187.6" height="186.3" fill="#0a0a0a"/>
<rect x="579.5" y="694.2" width="179" height="178.3" fill="#f7f7f7"/>
<rect x="579.5" y="802.4" width="179" height="37" fill="#e2e2e2"/>
<rect x="579.5" y="839.3" width="179" height="33.2" fill="#d2d2d2"/>
<rect x="579.5" y="841" width="179" height="1" fill="#c4c4c4"/>
<rect x="579.5" y="844" width="179" height="1" fill="#c4c4c4"/>
<rect x="579.5" y="847" width="179" height="1" fill="#c4c4c4"/>
<rect x="579.5" y="850" width="179" height="1" fill="#c4c4c4"/>
<rect x="579.5" y="853" width="179" height="1" fill="#c4c4c4"/>
<rect x="579.5" y="856" width="179" height="1" fill="#c4c4c4"/>
<rect x="579.5" y="859" width="179" height="1" fill="#c4c4c4"/>
<rect x="579.5" y="862" width="179" height="1" fill="#c4c4c4"/>
<rect x="579.5" y="865" width="179" height="1" fill="#c4c4c4"/>
<rect x="579.5" y="868" width="179" height="1" fill="#c4c4c4"/>
<rect x="579.5" y="871" width="179" height="1" fill="#c4c4c4"/>
<rect x="586.5" y="694.2" width="0.9" height="178.3" fill="#c8c8c8"/>
<rect x="613.8" y="694.2" width="0.9" height="178.3" fill="#c8c8c8"/>
<rect x="627.9" y="694.2" width="0.9" height="178.3" fill="#c8c8c8"/>
<rect x="655" y="694.2" width="0.9" height="178.3" fill="#c8c8c8"/>
<rect x="669" y="694.2" width="0.9" height="178.3" fill="#c8c8c8"/>
<rect x="683" y="694.2" width="0.9" height="178.3" fill="#c8c8c8"/>
<rect x="712" y="694.2" width="0.9" height="178.3" fill="#c8c8c8"/>
<rect x="738" y="694.2" width="0.9" height="178.3" fill="#c8c8c8"/>
<rect x="746" y="694.2" width="0.9" height="178.3" fill="#c8c8c8"/>
<rect x="584.8" y="694.2" width="1.6" height="178.3" fill="#555"/>
<rect x="579.5" y="694.2" width="179" height="2.5" fill="#444"/>
<path d="M581,710.1 L700,710.7 L740,711.6 L700,712.4 L581,712.4 Z" fill="#2a2a2a"/>
<path d="M757,695 L754,702 L751,713 L746.3,732 L743.5,746 L743.5,765 L746.3,779.5 L749.2,793.7 L753,801 L756,815 L755.5,830 L757,850 L757.5,872.5 L758.6,872.5 L758.6,694 Z" fill="#080808"/>
</g>
<text x="581.3" y="760.6" font-size="19.5" font-weight="bold" fill="#4a86fc" textLength="171.2" lengthAdjust="spacingAndGlyphs">CLSE w/o BM 60%</text>
<text x="633.3" y="829.1" font-size="19.5" font-weight="bold" fill="#ff787c" textLength="119.2" lengthAdjust="spacingAndGlyphs">CL SBM 52%</text>
<text x="601.4" y="865.3" font-size="19.5" font-weight="bold" textLength="151.1" lengthAdjust="spacingAndGlyphs">Conv. MBM 38%</text>
<path d="M747,693.5 C754,694 756.8,697 756.8,704 L756.8,738 C756.8,743 759,746.3 763.3,746.3 C759,746.3 756.8,749 756.8,754 L756.8,788 C756.8,795 754,798.6 747,799.2" stroke="#5b9bd5" stroke-width="2.6" fill="none"/>
<line x1="763" y1="746.3" x2="811.5" y2="749.5" stroke="#5b9bd5" stroke-width="2.6"/>
<line x1="753.6" y1="819" x2="808.1" y2="835.5" stroke="#ff787c" stroke-width="2.2"/>
<line x1="754.8" y1="854.8" x2="821.7" y2="920.7" stroke="#000" stroke-width="2.2"/>
<g>
<rect x="782.9" y="979.9" width="186.1" height="185.3" fill="#060606"/>
<rect x="790.1" y="985.7" width="171.3" height="173.6" fill="#1e1c1d"/>
<g transform="translate(791.5,1011) scale(0.86,0.962)">
<text x="0" y="-8.52" font-size="10.9" fill="#b8b0b0" opacity="0.4" textLength="197.67" lengthAdjust="spacing">HRLHRLHRLHRLHRLHRLHR</text>
<text x="0" y="-16.22" font-size="11.2" fill="#ece4e4" stroke="#e8e0e0" stroke-width="0.35" textLength="197.67" lengthAdjust="spacing">HRLHRLHRLHRLHRLHRLHR</text>
<text x="0" y="0" font-size="11.2" fill="#ece4e4" stroke="#e8e0e0" stroke-width="0.35" textLength="197.67" lengthAdjust="spacing">HRLHRLHRLHRLHRLHRLHR</text>
<text x="0" y="10" font-size="11.2" fill="#ece4e4" stroke="#e8e0e0" stroke-width="0.35" textLength="197.67" lengthAdjust="spacing">HRLHRLHRLHRLHRLHRLHR</text>
<text x="0" y="20" font-size="11.2" fill="#ece4e4" stroke="#e8e0e0" stroke-width="0.35" textLength="197.67" lengthAdjust="spacing">HRLHRLHRLHRLHRLHRLHR</text>
<text x="0" y="30" font-size="11.2" fill="#ece4e4" stroke="#e8e0e0" stroke-width="0.35" textLength="197.67" lengthAdjust="spacing">HRLHRLHRLHRLHRLHRLHR</text>
<text x="0" y="40" font-size="11.2" fill="#ece4e4" stroke="#e8e0e0" stroke-width="0.35" textLength="197.67" lengthAdjust="spacing">HRLHRLHRLHRLHRLHRLHR</text>
<text x="0" y="50" font-size="11.2" fill="#ece4e4" stroke="#e8e0e0" stroke-width="0.35" textLength="197.67" lengthAdjust="spacing">HRLHRLHRLHRLHRLHRLHR</text>
<text x="0" y="60" font-size="11.2" fill="#ece4e4" stroke="#e8e0e0" stroke-width="0.35" textLength="197.67" lengthAdjust="spacing">HRLHRLHRLHRLHRLHRLHR</text>
<text x="0" y="70" font-size="11.2" fill="#ece4e4" stroke="#e8e0e0" stroke-width="0.35" textLength="197.67" lengthAdjust="spacing">HRLHRLHRLHRLHRLHRLHR</text>
<text x="0" y="80" font-size="11.2" fill="#ece4e4" stroke="#e8e0e0" stroke-width="0.35" textLength="197.67" lengthAdjust="spacing">HRLHRLHRLHRLHRLHRLHR</text>
<text x="0" y="90" font-size="11.2" fill="#ece4e4" stroke="#e8e0e0" stroke-width="0.35" textLength="197.67" lengthAdjust="spacing">HRLHRLHRLHRLHRLHRLHR</text>
<text x="0" y="100" font-size="11.2" fill="#ece4e4" stroke="#e8e0e0" stroke-width="0.35" textLength="197.67" lengthAdjust="spacing">HRLHRLHRLHRLHRLHRLHR</text>
<text x="0" y="110" font-size="11.2" fill="#ece4e4" stroke="#e8e0e0" stroke-width="0.35" textLength="197.67" lengthAdjust="spacing">HRLHRLHRLHRLHRLHRLHR</text>
<text x="0" y="120" font-size="11.2" fill="#ece4e4" stroke="#e8e0e0" stroke-width="0.35" textLength="197.67" lengthAdjust="spacing">HRLHRLHRLHRLHRLHRLHR</text>
<text x="0" y="130" font-size="11.2" fill="#ece4e4" stroke="#e8e0e0" stroke-width="0.35" textLength="197.67" lengthAdjust="spacing">HRLHRLHRLHRLHRLHRLHR</text>
<text x="0" y="140" font-size="11.2" fill="#ece4e4" stroke="#e8e0e0" stroke-width="0.35" textLength="197.67" lengthAdjust="spacing">HRLHRLHRLHRLHRLHRLHR</text>
<text x="0" y="150" font-size="11.2" fill="#ece4e4" stroke="#e8e0e0" stroke-width="0.35" textLength="197.67" lengthAdjust="spacing">HRLHRLHRLHRLHRLHRLHR</text>
</g>
<rect x="790.1" y="1159.3" width="171.3" height="6" fill="#060606"/>
<path d="M961.5,990 L958,1005 L955,1030 L950,1060 L955,1085 L961.5,1095 Z" fill="#0e0e0e"/>
</g>
<path d="M569.7,1188.9 C574.75,1187.5 591.28,1182.4 600,1180.5 C608.72,1178.6 615.33,1177.67 622,1177.5 C628.67,1177.33 634.53,1178.58 640,1179.5 C645.47,1180.42 647.18,1185.82 654.8,1183 C662.42,1180.18 676.93,1172.65 685.7,1162.6 C694.47,1152.55 699.78,1138 707.4,1122.7 C715.02,1107.4 724.85,1085.08 731.4,1070.8 C737.95,1056.52 740.8,1050.25 746.7,1037 C752.6,1023.75 755.47,1009.48 766.8,991.3 C778.13,973.12 794.57,943.15 814.7,927.9 C834.83,912.65 875.45,904.48 887.6,899.8" stroke="#000" stroke-width="5.5" fill="none" stroke-linejoin="round"/>
<circle cx="569.7" cy="1188.9" r="8.4" fill="#000"/>
<circle cx="654.8" cy="1183" r="8.4" fill="#000"/>
<circle cx="685.7" cy="1162.6" r="8.4" fill="#000"/>
<circle cx="707.4" cy="1122.7" r="8.4" fill="#000"/>
<circle cx="731.4" cy="1070.8" r="8.4" fill="#000"/>
<circle cx="746.7" cy="1037" r="8.4" fill="#000"/>
<circle cx="766.8" cy="991.3" r="8.4" fill="#000"/>
<circle cx="814.7" cy="927.9" r="8.4" fill="#000"/>
<circle cx="887.6" cy="899.8" r="8.4" fill="#000"/>
<path d="M569.7,1185 C574.75,1184.5 590.78,1182.92 600,1182 C609.22,1181.08 615.87,1180.67 625,1179.5 C634.13,1178.33 644.68,1178.58 654.8,1175 C664.92,1171.42 676.55,1168.43 685.7,1158 C694.85,1147.57 701.9,1129.9 709.7,1112.4 C717.5,1094.9 726.22,1070.7 732.5,1053 C738.78,1035.3 741.62,1025.6 747.4,1006.2 C753.18,986.8 756.22,964.93 767.2,936.6 C778.18,908.27 793.23,859.85 813.3,836.2 C833.37,812.55 875.22,801.62 887.6,794.7" stroke="#ff787c" stroke-width="6" fill="none" stroke-linejoin="round"/>
<circle cx="569.7" cy="1185" r="8.4" fill="#ff787c"/>
<circle cx="685.7" cy="1158" r="8.4" fill="#ff787c"/>
<circle cx="709.7" cy="1112.4" r="8.4" fill="#ff787c"/>
<circle cx="732.5" cy="1053" r="8.4" fill="#ff787c"/>
<circle cx="747.4" cy="1006.2" r="8.4" fill="#ff787c"/>
<circle cx="767.2" cy="936.6" r="8.4" fill="#ff787c"/>
<circle cx="813.3" cy="836.2" r="8.4" fill="#ff787c"/>
<circle cx="887.6" cy="794.7" r="8.4" fill="#ff787c"/>
<path d="M569.7,1184.8 C583.88,1184.1 635.47,1186.2 654.8,1180.6 C674.13,1175 676.93,1164.67 685.7,1151.2 C694.47,1137.73 699.9,1120.35 707.4,1099.8 C714.9,1079.25 724.15,1048.07 730.7,1027.9 C737.25,1007.73 740.68,1001.22 746.7,978.8 C752.72,956.38 755.7,931.47 766.8,893.4 C777.9,855.33 793.17,780.37 813.3,750.4 C833.43,720.43 875.22,719.73 887.6,713.6" stroke="#4a86fc" stroke-width="6" fill="none" stroke-linejoin="round"/>
<circle cx="569.7" cy="1184.8" r="8.3" fill="#4a86fc"/>
<circle cx="654.8" cy="1180.6" r="8.3" fill="#4a86fc"/>
<circle cx="685.7" cy="1151.2" r="8.3" fill="#4a86fc"/>
<circle cx="707.4" cy="1099.8" r="8.3" fill="#4a86fc"/>
<circle cx="730.7" cy="1027.9" r="8.3" fill="#4a86fc"/>
<circle cx="746.7" cy="978.8" r="8.3" fill="#4a86fc"/>
<circle cx="766.8" cy="893.4" r="8.3" fill="#4a86fc"/>
<circle cx="813.3" cy="750.4" r="8.3" fill="#4a86fc"/>
<circle cx="887.6" cy="713.6" r="8.3" fill="#4a86fc"/>
</svg></body></html>
